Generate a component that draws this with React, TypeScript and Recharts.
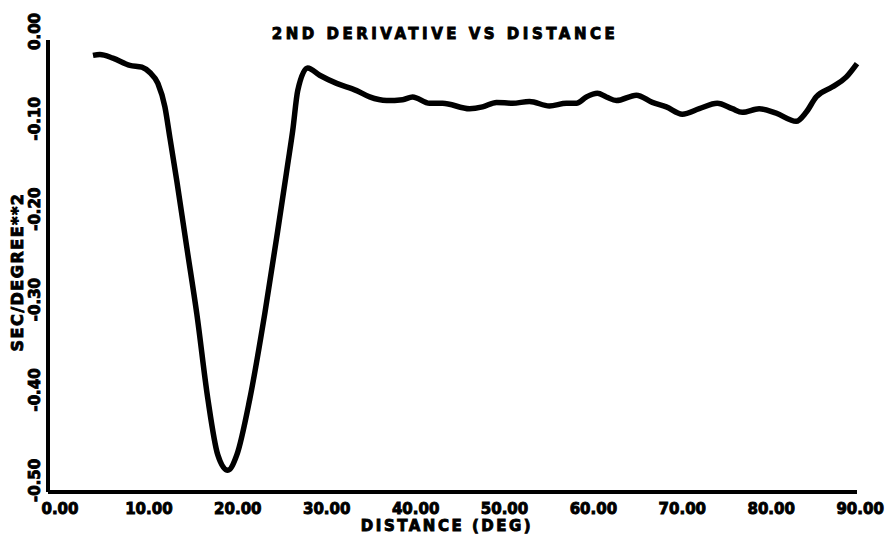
import { Line, LineChart, XAxis, YAxis } from "recharts";

// distance (deg)
const distance = [
  5.06, 5.84, 7.3, 9.21, 10.56, 11.46, 12.36, 13.15, 13.71, 14.49, 15.62, 16.74, 17.98, 19.1,
  20.22, 21.24, 22.7, 24.38, 25.84, 26.97, 27.53, 28.09, 29.21, 30.56, 32.47, 34.72, 36.18,
  38.09, 39.89, 41.01, 42.92, 44.38, 47.42, 48.88, 50.45, 52.25, 54.16, 56.4, 58.31, 59.44,
  60.56, 61.8, 62.81, 63.93, 66.18, 67.98, 69.55, 71.35, 73.26, 75.28, 76.97, 78.09, 80.0,
  81.91, 84.16, 85.28, 86.4, 88.2, 89.78, 91.0,
];

// second derivative values
const secondDeriv = [
  -0.017, -0.016, -0.02, -0.028, -0.03, -0.036, -0.048, -0.074, -0.108, -0.156, -0.23, -0.303,
  -0.397, -0.459, -0.476, -0.459, -0.397, -0.303, -0.211, -0.137, -0.1, -0.056, -0.031, -0.039,
  -0.048, -0.056, -0.063, -0.067, -0.066, -0.063, -0.07, -0.07, -0.076, -0.074, -0.069, -0.07,
  -0.068, -0.073, -0.07, -0.07, -0.063, -0.059, -0.063, -0.067, -0.061, -0.069, -0.074, -0.082,
  -0.076, -0.07, -0.076, -0.08, -0.076, -0.081, -0.09, -0.08, -0.063, -0.052, -0.041, -0.026,
];

const xTicks = [0, 10, 20, 30, 40, 50, 60, 70, 80, 90];
const yTicks = [0, -0.1, -0.2, -0.3, -0.4, -0.5];

const data = distance.map((d, i) => ({ d, v: secondDeriv[i] }));

const FONT = "'DejaVu Sans', sans-serif";
// heavy plotter-style lettering
const ink = { fontFamily: FONT, fontWeight: "bold", fill: "#000", stroke: "#000", strokeWidth: 0.9 } as const;

function XTick(props: any) {
  const { x, payload } = props;
  return (
    <text x={x + 12} y={514} textAnchor="middle" fontSize={15} {...ink}>
      {payload.value.toFixed(2)}
    </text>
  );
}

function YTick(props: any) {
  const { y, payload } = props;
  return (
    <text transform={`translate(40,${y + 10}) rotate(-90)`} textAnchor="start" fontSize={15} {...ink}>
      {payload.value.toFixed(2)}
    </text>
  );
}

export default function App() {
  return (
    <div style={{ position: "absolute", left: 0, top: 0, width: 891, height: 540, background: "#fff" }}>
      <LineChart width={891} height={540} data={data} margin={{ top: 40, right: 34, bottom: 18, left: 8 }}>
        <text x={445} y={39} textAnchor="middle" fontSize={15} letterSpacing={3.5} {...ink}>
          2ND DERIVATIVE VS DISTANCE
        </text>
        <text x={447} y={531} textAnchor="middle" fontSize={15} letterSpacing={2.5} {...ink}>
          DISTANCE (DEG)
        </text>
        <text transform="translate(23,272) rotate(-90)" textAnchor="middle" fontSize={16} letterSpacing={1.5} {...ink}>
          SEC/DEGREE**2
        </text>
        <XAxis
          dataKey="d"
          type="number"
          domain={[0, 91]}
          ticks={xTicks}
          tick={<XTick />}
          tickLine={false}
          axisLine={{ stroke: "#000", strokeWidth: 4 }}
          height={30}
          interval={0}
        />
        <YAxis
          type="number"
          domain={[-0.5, 0]}
          ticks={yTicks}
          tick={<YTick />}
          tickLine={false}
          axisLine={{ stroke: "#000", strokeWidth: 4 }}
          width={40}
          interval={0}
        />
        <Line
          type="monotone"
          dataKey="v"
          stroke="#000"
          strokeWidth={5.5}
          dot={false}
          isAnimationActive={false}
        />
      </LineChart>
    </div>
  );
}
